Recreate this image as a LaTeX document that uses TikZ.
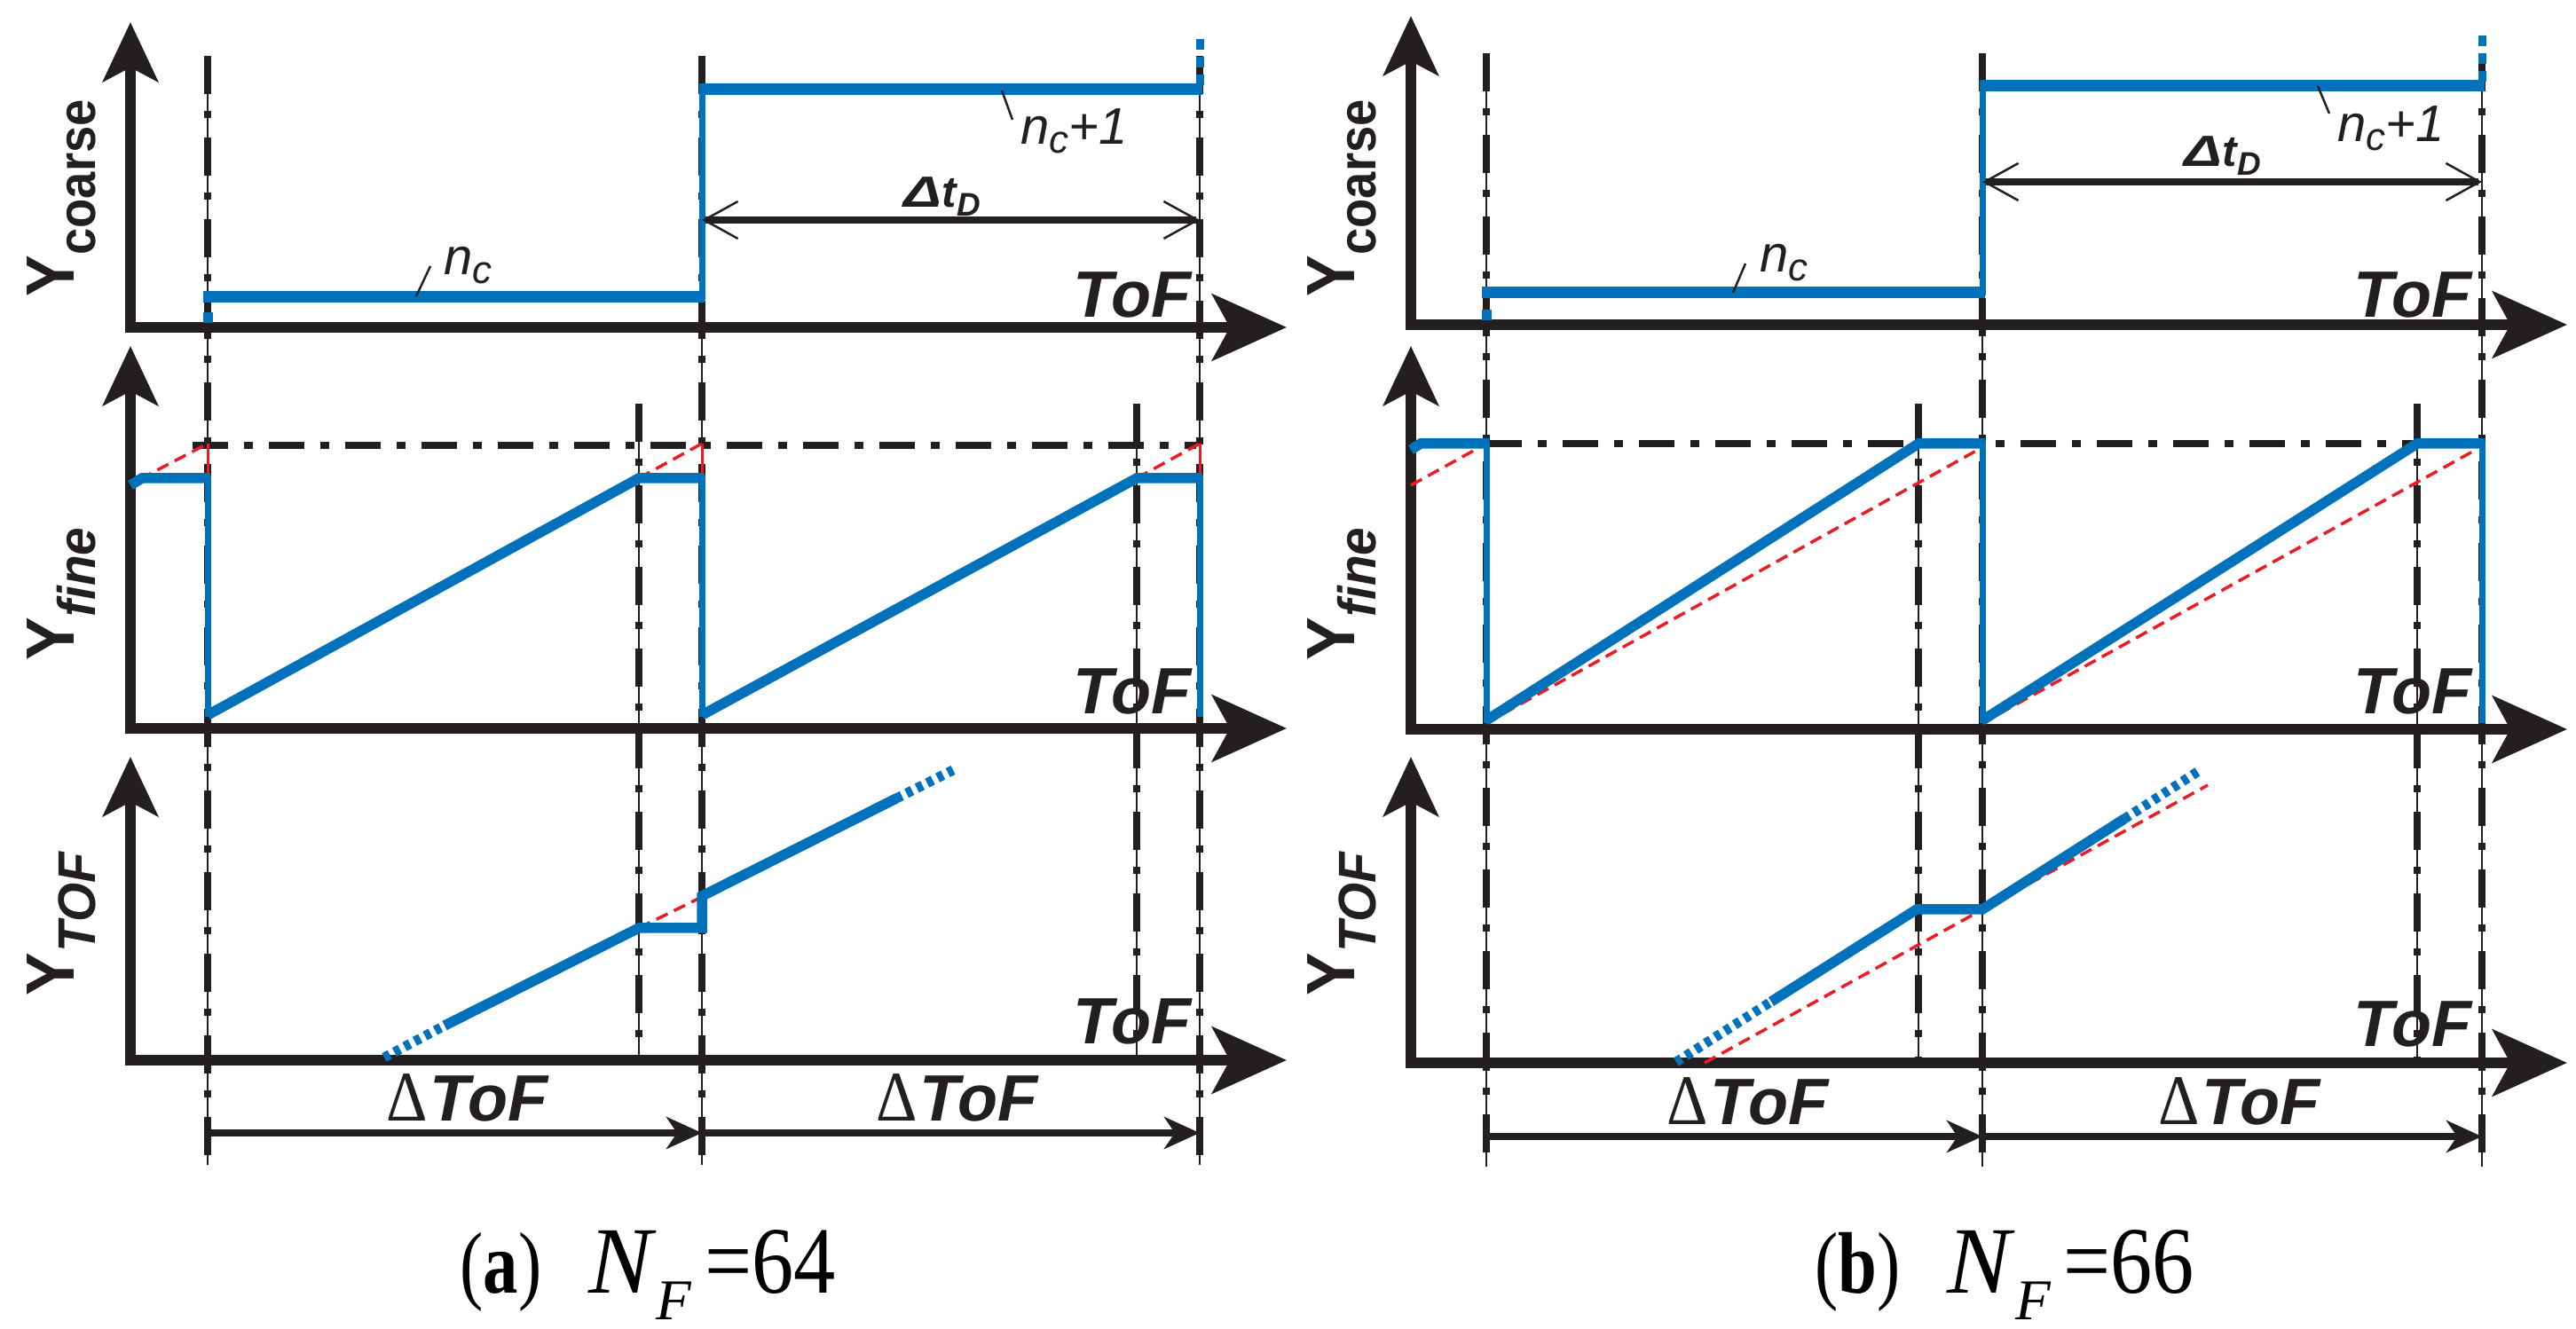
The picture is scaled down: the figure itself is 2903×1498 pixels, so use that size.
\documentclass[tikz,border=0pt]{standalone}
\usepackage{fontspec}
\setmainfont{Liberation Serif}
\setsansfont{Liberation Sans}
\usetikzlibrary{arrows.meta}
\definecolor{cblue}{RGB}{0,114,188}
\definecolor{cred}{RGB}{237,28,36}
\definecolor{cblk}{RGB}{35,31,32}
\tikzset{
  xaxis/.style={cblk,line width=1.2mm,-{Stealth[length=8.4mm,width=7.5mm,inset=2mm]}},
  yaxis/.style={cblk,line width=1.15mm,-{Stealth[length=6.7mm,width=6.2mm,inset=1.6mm]}},
  vthin/.style={cblk,line width=0.2mm},
  vdash/.style={cblk,line width=0.75mm,dash pattern=on 4.3mm off 1.9mm on 0.8mm off 2.2mm},
  hdd/.style={cblk,line width=0.85mm,dash pattern=on 4mm off 1.8mm on 1mm off 1.8mm},
  rdash/.style={cred,line width=0.35mm,dash pattern=on 1.4mm off 0.8mm},
  rthin/.style={cred,line width=0.3mm},
  bthick/.style={cblue,line width=1.3mm},
  bramp/.style={cblue,line width=1.15mm,line join=miter},
  bdrop/.style={cblue,line width=0.7mm},
  bdot/.style={cblue,line width=1.1mm,dash pattern=on 0.7mm off 0.6mm},
  bvdash/.style={cblue,line width=0.9mm,dash pattern=on 1.2mm off 0.8mm},
  leader/.style={cblk,line width=0.25mm},
  dtd/.style={cblk,line width=0.8mm,{Straight Barb[length=3.8mm,width=4.2mm,line width=0.25mm]}-{Straight Barb[length=3.8mm,width=4.2mm,line width=0.25mm]}},
  dtof/.style={cblk,line width=0.8mm,-{Stealth[length=4mm,width=3.6mm,inset=1.2mm]}},
  toflab/.style={font=\fontsize{21}{21}\selectfont\sffamily\bfseries\itshape,inner sep=0pt,anchor=base east,text=cblk},
  nclab/.style={font=\fontsize{16.5}{16.5}\selectfont\sffamily\itshape,inner sep=0pt,anchor=base west,text=cblk},
  dtdlab/.style={font=\fontsize{14}{14}\selectfont\sffamily\bfseries\itshape,inner sep=0pt,anchor=base west,text=cblk},
  dtoflab/.style={inner sep=0pt,anchor=base west,text=cblk},
  ylab/.style={rotate=90,inner sep=0pt,anchor=base west,text=cblk},
  caplab/.style={inner sep=0pt,anchor=base west,font=\rmfamily},
}
\newcommand{\myTOF}{{\fontsize{21}{21}\selectfont\sffamily\bfseries\itshape ToF}}
\newcommand{\myDToF}{\scalebox{0.9}[1]{\fontsize{22.8}{23}\selectfont\rmfamily Δ}\hspace{0.8pt}\myTOF}
\newcommand{\myNC}{n\raisebox{-2.8pt}{\fontsize{12.5}{12.5}\selectfont c}}
\newcommand{\myDTD}{\scalebox{1.3}[1]{Δ}t\raisebox{-2.6pt}{\fontsize{10.5}{10.5}\selectfont D}}
\newcommand{\myYlab}[2]{\scalebox{#1}[1]{\fontsize{21.9}{22}\selectfont\sffamily\bfseries Y\raisebox{-7pt}{\fontsize{17}{17}\selectfont #2}}}
\newcommand{\myCap}[2]{\fontsize{28}{28}\selectfont\scalebox{0.8}[1]{(\textbf{#1})}\hspace{15pt}\fontsize{30.5}{30.5}\selectfont\textit{N}\raisebox{-8.3pt}{\fontsize{18.5}{18.5}\selectfont\textit{F}}\hspace{4pt}\scalebox{0.88}[1]{=#2}}
\begin{document}
\begin{tikzpicture}[x=0.1mm,y=-0.1mm]
\fill[white] (0,0) rectangle (2903,1498);
\useasboundingbox (0,0) rectangle (2903,1498);

% ================= panel (a) =================
\foreach \xx in {234,791,1352}{\draw[vthin] (\xx,63) -- (\xx,1313); \draw[vdash] (\xx,63) -- (\xx,1313);}
\foreach \xx in {720,1281}{\draw[vthin] (\xx,455) -- (\xx,1195); \draw[vdash] (\xx,455) -- (\xx,1195);}
\draw[yaxis] (147,375) -- (147,25);
\draw[xaxis] (141,369) -- (1450,369);
\draw[yaxis] (147,827) -- (147,390);
\draw[xaxis] (141,821) -- (1450,821);
\draw[yaxis] (147,1201) -- (147,853);
\draw[xaxis] (141,1195) -- (1450,1195);
\node[ylab] (ycA) at (83,335) {\myYlab{0.91}{coarse}};
\node[ylab] (yfA) at (83,745) {\myYlab{0.95}{\itshape fine}};
\node[ylab] (ytA) at (83,1123) {\myYlab{0.95}{\itshape TOF}};
\node[toflab] (tof1A) at (1343,358) {ToF};
\node[toflab] (tof2A) at (1343,805) {ToF};
\node[toflab] (tof3A) at (1343,1177) {ToF};
% top plot
\draw[cblue,line width=1.1mm] (234.5,352) -- (234.5,364);
\draw[bthick] (229,335) -- (794,335);
\draw[bdrop] (791,338) -- (791,101);
\draw[bthick] (788,101) -- (1355,101);
\draw[bvdash] (1352,96) -- (1352,44);
\draw[leader] (469,334) -- (485,300);
\node[nclab] (ncA) at (500,310) {\myNC};
\draw[leader] (1129,102) -- (1141,135);
\node[nclab] (nc1A) at (1150,163) {\myNC+1};
\draw[dtd] (791,248) -- (1352,248);
\node[dtdlab] (dtdA) at (1018,234) {\myDTD};
% middle plot
\draw[hdd] (217,502) -- (1348,502);
\draw[rdash] (158,540) -- (234,500); \draw[rthin] (234,500) -- (234,539);
\draw[rdash] (720,539) -- (791,500); \draw[rthin] (791,500) -- (791,539);
\draw[rdash] (1281,539) -- (1352,500); \draw[rthin] (1352,500) -- (1352,539);
\draw[bramp] (147,547) -- (160,539) -- (237,539);
\draw[bdrop] (234,536) -- (234,808);
\draw[bramp] (234,806) -- (720,539) -- (794,539);
\draw[bdrop] (791,536) -- (791,808);
\draw[bramp] (791,806) -- (1281,539) -- (1355,539);
\draw[bdrop] (1352,536) -- (1352,808);
% bottom plot
\draw[rdash] (720,1046) -- (791,1011);
\draw[bdot] (433,1192) -- (501,1156);
\draw[bramp] (501,1156) -- (720,1046) -- (791,1046) -- (791,1010) -- (1010,900);
\draw[bdot] (1010,900) -- (1074,868);
\draw[dtof] (234,1277) -- (791,1277);
\draw[dtof] (791,1277) -- (1352,1277);
\node[dtoflab] (dt1A) at (435,1264) {\myDToF};
\node[dtoflab] (dt2A) at (987,1264) {\myDToF};
\node[caplab] (capA) at (518,1458) {\myCap{a}{64}};

% ================= panel (b) =================
\foreach \xx in {1675,2234,2797}{\draw[vthin] (\xx,60) -- (\xx,1315); \draw[vdash] (\xx,60) -- (\xx,1315);}
\foreach \xx in {2162,2724}{\draw[vthin] (\xx,455) -- (\xx,1198); \draw[vdash] (\xx,455) -- (\xx,1198);}
\draw[yaxis] (1590,372) -- (1590,18);
\draw[xaxis] (1584,366) -- (2893,366);
\draw[yaxis] (1590,828) -- (1590,390);
\draw[xaxis] (1584,822) -- (2893,822);
\draw[yaxis] (1590,1204) -- (1590,853);
\draw[xaxis] (1584,1198) -- (2893,1198);
\node[ylab] (ycB) at (1526,335) {\myYlab{0.91}{coarse}};
\node[ylab] (yfB) at (1526,745) {\myYlab{0.95}{\itshape fine}};
\node[ylab] (ytB) at (1526,1123) {\myYlab{0.95}{\itshape TOF}};
\node[toflab] (tof1B) at (2786,358) {ToF};
\node[toflab] (tof2B) at (2786,805) {ToF};
\node[toflab] (tof3B) at (2786,1180) {ToF};
% top plot
\draw[cblue,line width=1.1mm] (1675,349) -- (1675,361);
\draw[bthick] (1670,330) -- (2237,330);
\draw[bdrop] (2234,333) -- (2234,97);
\draw[bthick] (2231,97) -- (2800,97);
\draw[bvdash] (2797,92) -- (2797,40);
\draw[leader] (1953,330) -- (1967,297);
\node[nclab] (ncB) at (1983,307) {\myNC};
\draw[leader] (2612,97) -- (2625,128);
\node[nclab] (nc1B) at (2634,160) {\myNC+1};
\draw[dtd] (2234,205) -- (2797,205);
\node[dtdlab] (dtdB) at (2461,188) {\myDTD};
% middle plot
\draw[hdd] (1675,500) -- (2797,500);
\draw[rdash] (1590,547) -- (1675,500);
\draw[rdash] (1675,815) -- (2229,507);
\draw[rdash] (2234,815) -- (2790,507);
\draw[bramp] (1590,507) -- (1601,500) -- (1678,500);
\draw[bdrop] (1675,497) -- (1675,815);
\draw[bramp] (1675,812) -- (2162,500) -- (2237,500);
\draw[bdrop] (2234,497) -- (2234,815);
\draw[bramp] (2234,812) -- (2724,500) -- (2800,500);
\draw[bdrop] (2797,497) -- (2797,815);
% bottom plot
\draw[rdash] (1921,1198) -- (2488,885);
\draw[bdot] (1889,1197) -- (1996,1129);
\draw[bramp] (1996,1129) -- (2160,1025) -- (2234,1025) -- (2394,923);
\draw[bdot] (2394,923) -- (2481,867);
\draw[dtof] (1675,1281) -- (2234,1281);
\draw[dtof] (2234,1281) -- (2797,1281);
\node[dtoflab] (dt1B) at (1878,1268) {\myDToF};
\node[dtoflab] (dt2B) at (2432,1268) {\myDToF};
\node[caplab] (capB) at (2045,1458) {\myCap{b}{66}};
\end{tikzpicture}
\end{document}
